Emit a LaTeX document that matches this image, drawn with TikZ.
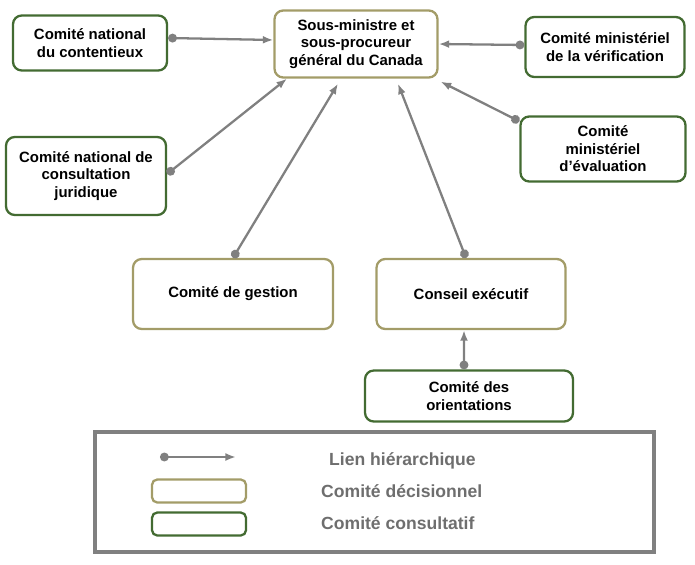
\documentclass[tikz,border=0pt]{standalone}
\usepackage{fontspec}
\setmainfont{Liberation Sans}
\usetikzlibrary{positioning, arrows.meta}
\definecolor{olive}{HTML}{A39C68}
\definecolor{vert}{HTML}{436B32}
\definecolor{gris}{HTML}{808080}
\definecolor{texte}{HTML}{6E6E6E}

\begin{document}
\begin{tikzpicture}[x=0.02cm, y=-0.02cm,
    boite/.style={draw, rounded corners=5pt, line width=1.3pt, align=center,
      font=\fontsize{8.5}{10}\selectfont\bfseries, inner sep=2pt},
    decision/.style={boite, draw=olive},
    conseil/.style={boite, draw=vert},
    lien/.style={draw=gris, line width=1.3pt, {Circle[length=5pt]-Latex[length=6pt]}},
    legende/.style={font=\fontsize{10}{12}\selectfont\bfseries, text=texte}]
  \useasboundingbox (0,0) rectangle (695,564);
  % Comites
  \node[decision, minimum width=163*0.02cm, minimum height=67*0.02cm] (sm) at (356,44) {Sous-ministre et\\sous-procureur\\général du Canada};
  \node[conseil, minimum width=154*0.02cm, minimum height=55*0.02cm] (cont) at (90,43) {Comité national\\du contentieux};
  \node[conseil, minimum width=159*0.02cm, minimum height=60*0.02cm] (verif) at (605,47) {Comité ministériel\\de la vérification};
  \node[conseil, minimum width=160*0.02cm, minimum height=78*0.02cm] (jur) at (86,176) {Comité national de\\consultation\\juridique};
  \node[conseil, minimum width=165*0.02cm, minimum height=65*0.02cm] (eval) at (603,149) {Comité\\ministériel\\d’évaluation};
  \node[decision, minimum width=200*0.02cm, minimum height=70*0.02cm] (gest) at (233,294) {Comité de gestion};
  \node[decision, minimum width=189*0.02cm, minimum height=70*0.02cm] (exec) at (471,294) {Conseil exécutif};
  \node[conseil, minimum width=208*0.02cm, minimum height=51*0.02cm] (orient) at (469,396) {Comité des\\orientations};

  % Liens
  \draw[lien] ([yshift=0.1cm]cont.east) -- ([yshift=0.08cm]sm.west);
  \draw[lien] ([yshift=0.04cm]verif.west) -- ([yshift=0cm]sm.east);
  \draw[lien] ([yshift=0.04cm]jur.east) -- ([xshift=-1.38cm]sm.south);
  \draw[lien] ([yshift=-0.12cm]eval.north west) -- ([xshift=0.04cm,yshift=-0.06cm]sm.south east);
  \draw[lien] (gest.north) -- ([xshift=-0.36cm,yshift=-0.1cm]sm.south);
  \draw[lien] ([xshift=-0.1cm]exec.north) -- ([xshift=0.84cm,yshift=-0.1cm]sm.south);
  \draw[lien] ([xshift=-0.1cm]orient.north) -- ([xshift=-0.14cm]exec.south);

  % Legende
  \node[draw=gris, line width=2pt, minimum width=559*0.02cm, minimum height=120*0.02cm] (leg) at (374.5,492) {};
  \coordinate (l1) at (160,457);
  \coordinate (l2) at (236,457);
  \draw[lien] (l1) -- (l2);
  \node[legende, anchor=west] (t1) at (323,461) {Lien hiérarchique};
  \node[draw=olive, line width=1.3pt, rounded corners=3pt, minimum width=94*0.02cm, minimum height=23*0.02cm] (b1) at (199,491) {};
  \node[legende, anchor=west] (t2) at (315,491) {Comité décisionnel};
  \node[draw=vert, line width=1.3pt, rounded corners=3pt, minimum width=94*0.02cm, minimum height=23*0.02cm] (b2) at (199,524) {};
  \node[legende, anchor=west] (t3) at (315,523) {Comité consultatif};
\end{tikzpicture}
\end{document}
